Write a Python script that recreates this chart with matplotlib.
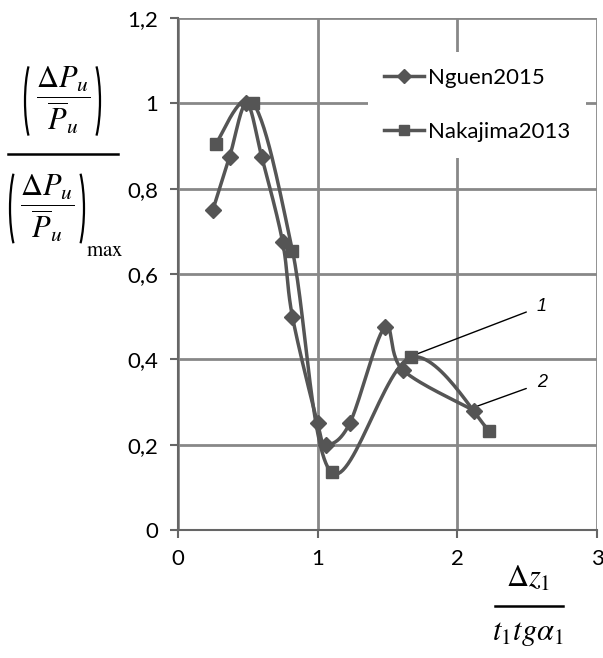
import numpy as np
import matplotlib.pyplot as plt
from matplotlib.patches import Arc
from matplotlib.lines import Line2D
from matplotlib.ticker import FuncFormatter

plt.rcParams['font.family'] = ['Lato', 'DejaVu Sans']
plt.rcParams['mathtext.fontset'] = 'stix'

# Nguen2015 (ромбы)
x_nguen = [0.25, 0.37, 0.49, 0.60, 0.75, 0.82, 1.00, 1.06, 1.23, 1.48, 1.61, 2.12]
y_nguen = [0.75, 0.875, 1.00, 0.875, 0.675, 0.50, 0.25, 0.20, 0.25, 0.475, 0.375, 0.28]

# Nakajima2013 (квадраты)
x_naka = [0.27, 0.54, 0.82, 1.10, 1.67, 2.23]
y_naka = [0.905, 1.00, 0.655, 0.135, 0.405, 0.232]

xticks = [0, 1, 2, 3]
yticks = [0, 0.2, 0.4, 0.6, 0.8, 1.0, 1.2]

W, H = 603, 658


def smooth(xs, ys, n=30):
    # сглаживание как в Excel: кубические Безье с касательными (P[i+1]-P[i-1])/6
    p = np.column_stack([xs, ys])
    out = [p[0]]
    for i in range(len(p) - 1):
        p0 = p[i - 1] if i > 0 else p[i]
        p3 = p[i + 2] if i + 2 < len(p) else p[i + 1]
        c1 = p[i] + (p[i + 1] - p0) / 6
        c2 = p[i + 1] - (p3 - p[i]) / 6
        t = np.linspace(0, 1, n)[1:, None]
        seg = ((1 - t) ** 3 * p[i] + 3 * (1 - t) ** 2 * t * c1
               + 3 * (1 - t) * t ** 2 * c2 + t ** 3 * p[i + 1])
        out.extend(seg)
    out = np.array(out)
    return out[:, 0], out[:, 1]


def fx(px):
    return px / W


def fy(py):
    return 1 - py / H


def parens(fig, x0, x1, y0, y1):
    # высокие круглые скобки вокруг дроби (координаты в пикселях)
    h = (y1 - y0) / H
    yc = fy((y0 + y1) / 2)
    w = 24 / W
    fig.add_artist(Arc((fx(x0) + w / 2, yc), w, h, theta1=105, theta2=255,
                       transform=fig.transFigure, color='black', lw=1.6))
    fig.add_artist(Arc((fx(x1) - w / 2, yc), w, h, theta1=-75, theta2=75,
                       transform=fig.transFigure, color='black', lw=1.6))


fig = plt.figure(figsize=(6.03, 6.58), dpi=100)
ax = fig.add_axes([0.295, 0.1945, 0.695, 0.778])

col = '#555555'
sx, sy = smooth(x_nguen, y_nguen)
ax.plot(sx, sy, color=col, lw=2.5, zorder=3)
ax.plot(x_nguen, y_nguen, 'D', color=col, ms=8, zorder=4)
ax.plot([], [], color=col, lw=2.5, marker='D', ms=7, label='Nguen2015')

sx, sy = smooth(x_naka, y_naka)
ax.plot(sx, sy, color=col, lw=2.5, zorder=3)
ax.plot(x_naka, y_naka, 's', color=col, ms=8, zorder=4)
ax.plot([], [], color=col, lw=2.5, marker='s', ms=7, label='Nakajima2013')

ax.set_xlim(0, 3)
ax.set_ylim(0, 1.2)
ax.set_xticks(xticks)
ax.set_yticks(yticks)
ax.yaxis.set_major_formatter(FuncFormatter(lambda v, p: ('%g' % round(v, 1)).replace('.', ',')))
ax.tick_params(labelsize=16, length=6, width=1.5, color='#666666', pad=8)
ax.grid(True, color='#888888', lw=2)
ax.set_axisbelow(True)
for s in ['top', 'right']:
    ax.spines[s].set_visible(False)
for s in ['left', 'bottom']:
    ax.spines[s].set_color('#666666')
    ax.spines[s].set_linewidth(1.5)

leg = ax.legend(loc='upper right', bbox_to_anchor=(1.0, 0.955), frameon=True,
                fontsize=16, handlelength=1.8, labelspacing=1.55, borderpad=0.7,
                handletextpad=0.2)
leg.get_frame().set_edgecolor('none')
leg.get_frame().set_facecolor('white')
leg.get_frame().set_alpha(1)

# номера кривых
ax.annotate('1', xy=(x_naka[4] + 0.02, y_naka[4] + 0.005), xytext=(2.57, 0.525),
            fontsize=13, style='italic', family='Liberation Sans', ha='left', va='center',
            arrowprops=dict(arrowstyle='-', color='black', lw=1, shrinkB=0, shrinkA=6))
ax.annotate('2', xy=(x_nguen[11] + 0.02, y_nguen[11] + 0.01), xytext=(2.57, 0.345),
            fontsize=13, style='italic', family='Liberation Sans', ha='left', va='center',
            arrowprops=dict(arrowstyle='-', color='black', lw=1, shrinkB=0, shrinkA=6))

# подпись оси Y: (dP/P) / (dP/P)max
inner = r'$\dfrac{\Delta P_u}{\overline{P}_u}$'
fig.text(fx(63), fy(100), inner, fontsize=22, ha='center', va='center')
parens(fig, 25, 100, 52, 150)
fig.add_artist(Line2D([fx(8), fx(118)], [fy(154), fy(154)],
                      transform=fig.transFigure, color='black', lw=1.8))
fig.text(fx(47), fy(208), inner, fontsize=22, ha='center', va='center')
parens(fig, 10, 84, 159, 258)
fig.text(fx(86), fy(250), r'$\mathrm{max}$', fontsize=15, ha='left', va='center')

# подпись оси X: dz1 / (t1 tg a1)
fig.text(fx(528), fy(578), r'$\Delta z_1$', fontsize=22, ha='center', va='center')
fig.add_artist(Line2D([fx(495), fx(563)], [fy(606), fy(606)],
                      transform=fig.transFigure, color='black', lw=1.8))
fig.text(fx(528), fy(634), r'$t_1 tg\alpha_1$', fontsize=22, ha='center', va='center')

fig.savefig('out.png', dpi=100)
